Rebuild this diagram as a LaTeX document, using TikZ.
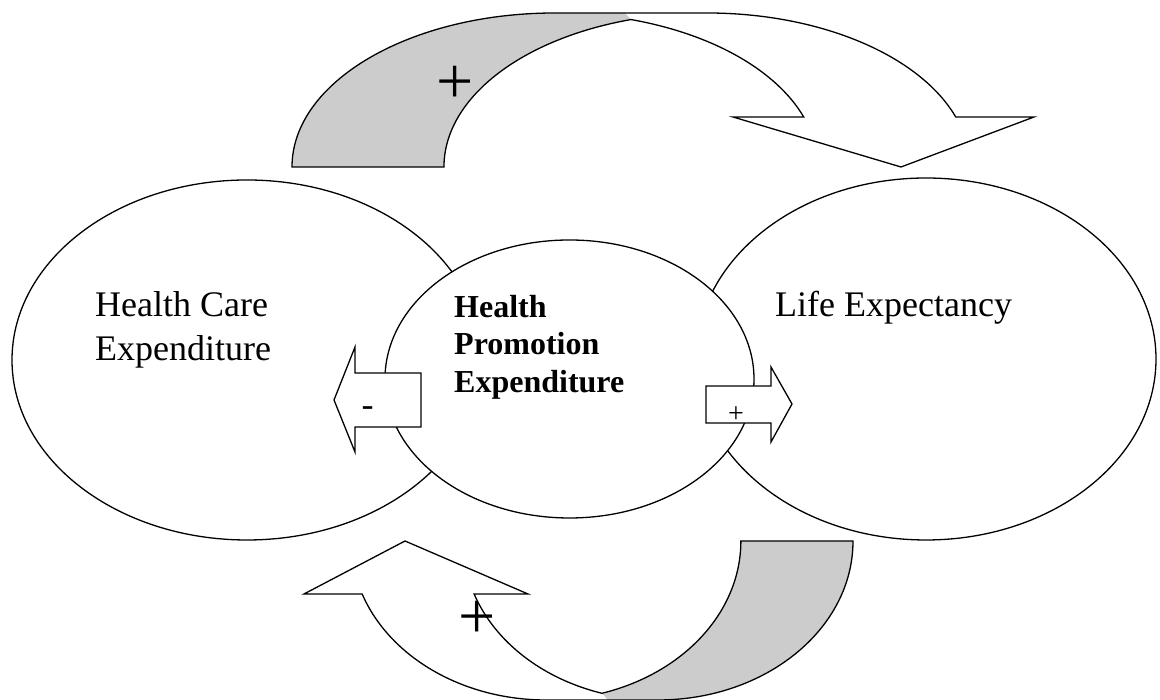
\documentclass[tikz,border=0pt]{standalone}
\usepackage{fontspec}
\setmainfont{Liberation Serif}
\usepackage{xcolor}
\definecolor{shadegray}{RGB}{204,204,204}
\usetikzlibrary{shapes.geometric}

\begin{document}
\begin{tikzpicture}[x=1pt, y=1pt,
  bubble/.style={ellipse, draw, fill=white, line width=1.3pt, inner sep=0pt},
  blockarrow/.style={draw, fill=white, line width=1.3pt, line join=miter},
  outline/.style={draw, line width=1.3pt, line join=miter},
  toparc/.style={x radius=263pt, y radius=154pt},
  botarc/.style={x radius=195pt, y radius=159pt},
  bigtext/.style={font=\fontsize{36}{44}\selectfont, inner sep=0pt, anchor=base west},
  boldtext/.style={font=\fontsize{32}{37}\selectfont\bfseries, inner sep=0pt, anchor=base west}]
  \useasboundingbox (0,0) rectangle (1160,700);

  % Ellipses
  \node[bubble, minimum width=470pt, minimum height=360pt] (care) at (247,340) {};
  \node[bubble, minimum width=460pt, minimum height=362pt] (life) at (926,341) {};
  \node[bubble, minimum width=369pt, minimum height=278pt] (promo) at (569.5,321) {};

  % Labels
  \node[bigtext] (care1) at (95,383) {Health Care};
  \node[bigtext] (care2) at (95,339) {Expenditure};
  \node[bigtext] (life1) at (775,383) {Life Expectancy};
  \node[boldtext] (promo1) at (454,382) {Health};
  \node[boldtext] (promo2) at (454,345) {Promotion};
  \node[boldtext] (promo3) at (454,307.3) {Expenditure};

  % Block arrows
  \draw[blockarrow] (334,300) -- (355,353) -- (355,327) -- (421,327) -- (421,273) -- (355,273) -- (355,248) -- cycle;
  \draw[blockarrow] (706,314) -- (771,314) -- (771,333) -- (792,296) -- (771,258) -- (771,277) -- (706,277) -- cycle;
  \node[font=\fontsize{36}{40}\selectfont, inner sep=0pt] (minus) at (367.5,288) {-};
  \node[font=\fontsize{28}{30}\selectfont, inner sep=0pt] (plussmall) at (736,285.5) {+};

  % Top curved arrow
  \fill[shadegray] (292,533) arc[start angle=180, end angle=90, toparc] -- (625,687) -- (631,680.4)
    arc[start angle=106.8, end angle=180, toparc] -- cycle;
  \draw[outline] (292,533) arc[start angle=180, end angle=90, toparc] -- (707,687)
    arc[start angle=90, end angle=18.94, toparc] -- (1034,583) -- (901,533) -- (733,583) -- (803.7,583)
    arc[start angle=18.94, end angle=73.2, toparc] arc[start angle=106.8, end angle=180, toparc] -- cycle;
  \node[font=\fontsize{66}{70}\selectfont, inner sep=0pt] (plustop) at (455.5,615) {+};

  % Bottom curved arrow
  \fill[shadegray] (741,159) -- (853,159) arc[start angle=0, end angle=-90, botarc] -- (608,0) -- (602,6.7)
    arc[start angle=286.7, end angle=360, botarc] -- cycle;
  \draw[outline] (304,106) -- (405,159) -- (528,106) -- (474.1,106)
    arc[start angle=199.47, end angle=253.3, botarc] arc[start angle=286.7, end angle=360, botarc] -- (853,159)
    arc[start angle=0, end angle=-90, botarc] -- (546,0) arc[start angle=270, end angle=199.47, botarc] -- cycle;
  \node[font=\fontsize{66}{70}\selectfont, inner sep=0pt] (plusbot) at (477,80) {+};
\end{tikzpicture}
\end{document}
